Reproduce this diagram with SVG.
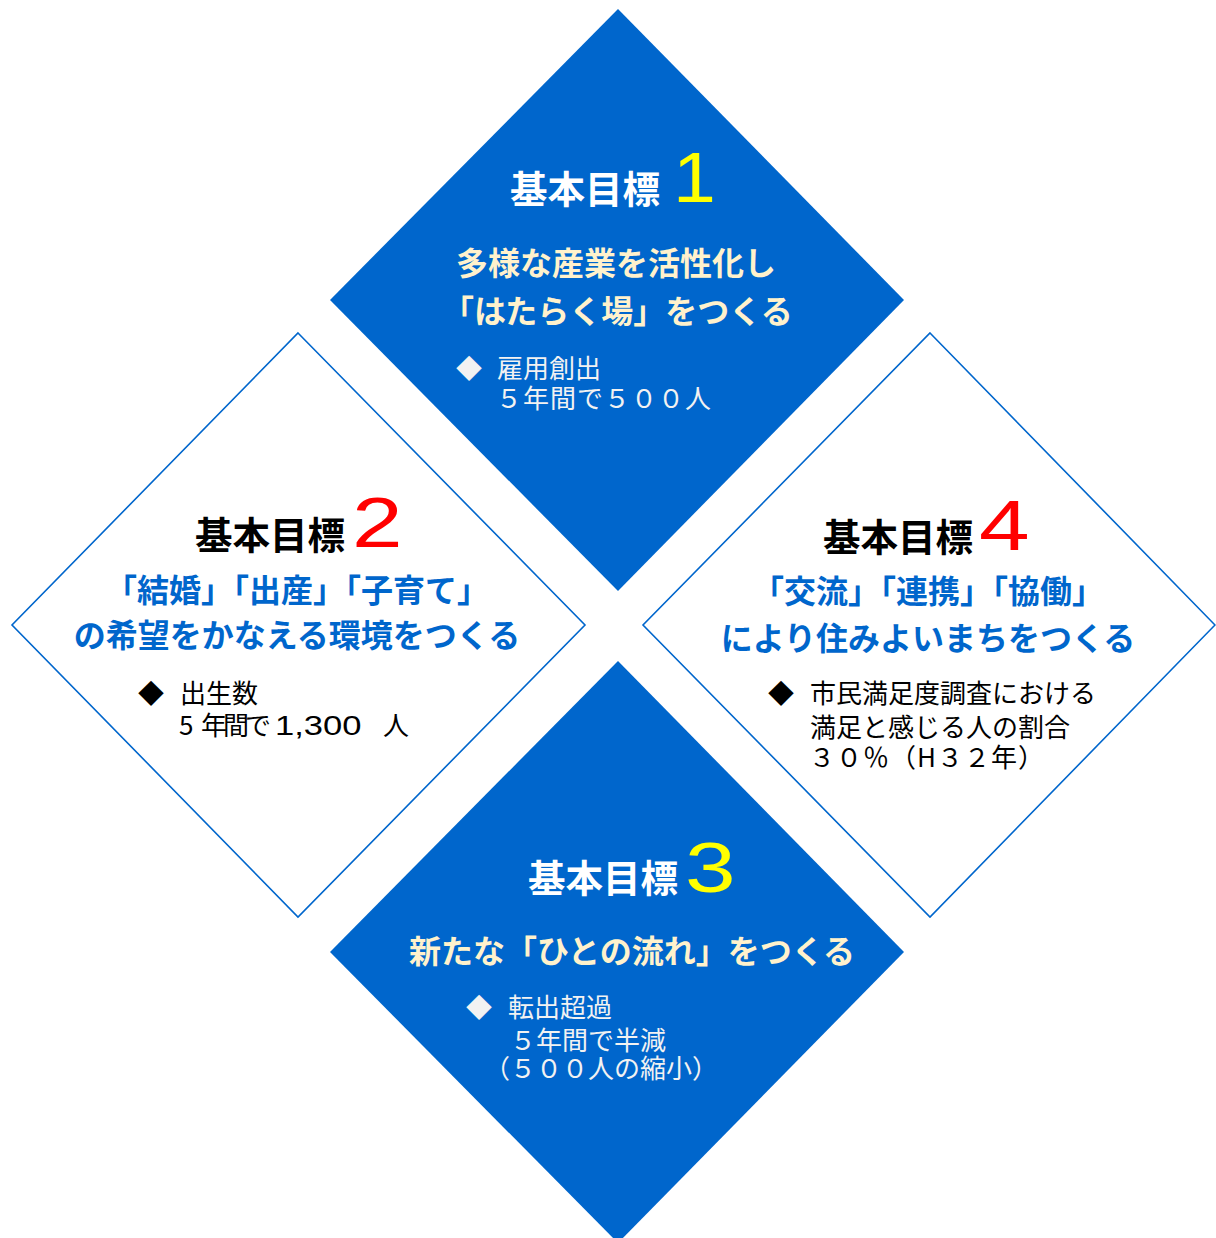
<svg xmlns="http://www.w3.org/2000/svg" width="1216" height="1238" viewBox="0 0 1216 1238">
<style>
.fill{fill:#0066CC}
.outline{fill:#FFFFFF;stroke:#0066CC;stroke-width:1.6}
.jp{font-family:"Noto Sans CJK JP","Noto Sans",sans-serif}
.title{font-size:37.5px;font-weight:bold}
.num{font-family:"Liberation Sans","Noto Sans",sans-serif;font-size:70px}
.sub{font-size:32px;font-weight:bold}
.bul{font-size:26px}
.lat{font-family:"Liberation Sans","Noto Sans",sans-serif;font-size:27px}
</style>
<rect width="1216" height="1238" fill="#FFFFFF"/>
<g id="connectors"></g>
<g id="goal1">
<polygon class="fill" points="618,9 904,300 618,591 330,300"/>
<text class="jp title" x="510" y="203" fill="#FFFFFF">基本目標</text>
<text class="num" transform="translate(673,202) scale(1.1,1)" fill="#FFFF00">1</text>
<text class="jp sub" x="456" y="275" fill="#FFF2CC">多様な産業を活性化し</text>
<text class="jp sub" x="442" y="323" fill="#FFF2CC">「はたらく場」をつくる</text>
<text class="jp bul" x="456" y="378" fill="#F2F2F2">◆</text>
<text class="jp bul" fill="#F2F2F2"><tspan x="497" y="378">雇用創出</tspan><tspan x="496" y="408" letter-spacing="1">５年間で５００人</tspan></text>
</g>
<g id="goal2">
<polygon class="outline" points="298,333 585,625 298,917 12,625"/>
<text class="jp title" x="195" y="549" fill="#000000">基本目標</text>
<text class="num" transform="translate(352,547) scale(1.3,1)" fill="#FF0000">2</text>
<text class="jp sub" x="297" y="602" text-anchor="middle" fill="#0066CC">「結婚」「出産」「子育て」</text>
<text class="jp sub" x="297" y="647" text-anchor="middle" fill="#0066CC">の希望をかなえる環境をつくる</text>
<text class="jp bul" x="138" y="703" fill="#000000">◆</text>
<text class="jp bul" fill="#000000"><tspan x="180" y="703">出生数</tspan><tspan x="179" y="735">5</tspan><tspan x="201" y="735" letter-spacing="-4">年間で</tspan><tspan x="383" y="735">人</tspan></text>
<text class="lat" transform="translate(275,735) scale(1.28,1)" fill="#000000">1,300</text>
</g>
<g id="goal4">
<polygon class="outline" points="930,333 1215,625 930,917 643,625"/>
<text class="jp title" x="823" y="551" fill="#000000">基本目標</text>
<text class="num" transform="translate(979,550) scale(1.3,1)" fill="#FF0000">4</text>
<text class="jp sub" x="928" y="603" text-anchor="middle" fill="#0066CC">「交流」「連携」「協働」</text>
<text class="jp sub" x="928" y="650" text-anchor="middle" fill="#0066CC">により住みよいまちをつくる</text>
<text class="jp bul" x="768" y="703" fill="#000000">◆</text>
<text class="jp bul" fill="#000000"><tspan x="810" y="703">市民満足度調査における</tspan><tspan x="810" y="737">満足と感じる人の割合</tspan><tspan x="809" y="767" letter-spacing="1">３０％（H３２年）</tspan></text>
</g>
<g id="goal3">
<polygon class="fill" points="618,661 904,952 618,1243 330,952"/>
<text class="jp title" x="528" y="892" fill="#FFFFFF">基本目標</text>
<text class="num" transform="translate(685,892) scale(1.3,1)" fill="#FFFF00">3</text>
<text class="jp sub" x="632" y="963" text-anchor="middle" fill="#FFF2CC">新たな「ひとの流れ」をつくる</text>
<text class="jp bul" x="466" y="1017" fill="#F2F2F2">◆</text>
<text class="jp bul" fill="#F2F2F2"><tspan x="508" y="1017">転出超過</tspan><tspan x="510" y="1050">５年間で半減</tspan><tspan x="484" y="1078">（５００人の縮小）</tspan></text>
</g>
</svg>
